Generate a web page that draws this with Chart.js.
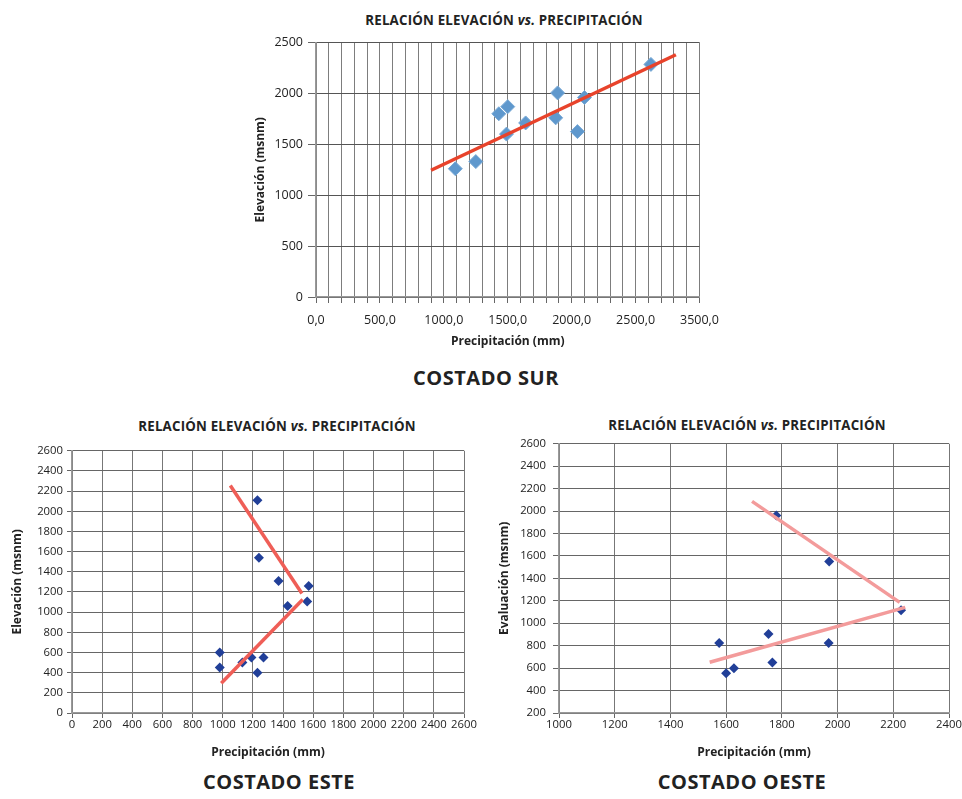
<!DOCTYPE html>
<html>
<head>
<meta charset="utf-8">
<script src="https://cdn.jsdelivr.net/npm/chart.js@4/dist/chart.umd.min.js"></script>
<style>
  html, body { margin: 0; padding: 0; background: #fff; }
  body { width: 962px; height: 799px; position: relative; overflow: hidden; font-family: 'Open Sans', sans-serif; color: #222; }
  .box { position: absolute; }
  .ttl { position: absolute; font-weight: 700; font-size: 13.3px; transform: translate(-50%, -50%); white-space: nowrap; letter-spacing: .2px; }
  .cap { position: absolute; font-weight: 700; font-size: 20px; transform: translate(-50%, -50%); white-space: nowrap; letter-spacing: .5px; }
</style>
</head>
<body>

<div class="ttl" style="left:504px;top:20px">RELACIÓN ELEVACIÓN <i>vs.</i> PRECIPITACIÓN</div>
<div class="box" style="left:230px;top:30px;width:499px;height:330px"><canvas id="chartSur"></canvas></div>
<div class="cap" style="left:486px;top:377px">COSTADO SUR</div>

<div class="ttl" style="left:277px;top:426px">RELACIÓN ELEVACIÓN <i>vs.</i> PRECIPITACIÓN</div>
<div class="box" style="left:0px;top:440px;width:480px;height:325px"><canvas id="chartEste"></canvas></div>
<div class="cap" style="left:279px;top:781px">COSTADO ESTE</div>

<div class="ttl" style="left:747px;top:425px">RELACIÓN ELEVACIÓN <i>vs.</i> PRECIPITACIÓN</div>
<div class="box" style="left:489px;top:430px;width:474px;height:335px"><canvas id="chartOeste"></canvas></div>
<div class="cap" style="left:742px;top:781px">COSTADO OESTE</div>

<script>
// ---- data ----

// Costado Sur
const surPrecip = [1090, 1250, 1430, 1500, 1490, 1640, 1890, 1875, 2045, 2100, 2620];
const surElev   = [1260, 1330, 1800, 1870, 1600, 1710, 2005, 1760, 1625, 1960, 2285];
const surTrendX = [900, 2815];
const surTrendY = [1245, 2380];
const surXLabels = ['0,0', '500,0', '1000,0', '1500,0', '2000,0', '2500,0', '3500,0'];

// Costado Este
const estePrecip = [1230, 1240, 1370, 1570, 1560, 1430, 980, 980, 1130, 1190, 1270, 1230];
const esteElev   = [2110, 1540, 1310, 1260, 1105, 1060, 600, 450, 500, 550, 550, 400];
const esteTrendAX = [1050, 1525];
const esteTrendAY = [2255, 1185];
const esteTrendBX = [990, 1530];
const esteTrendBY = [295, 1125];

// Costado Oeste
const oestePrecip = [1780, 1970, 2228, 1752, 1968, 1575, 1766, 1628, 1600];
const oesteElev   = [1960, 1550, 1115, 905, 825, 825, 650, 600, 555];
const oesteTrendAX = [1693, 2223];
const oesteTrendAY = [2087, 1186];
const oesteTrendBX = [1541, 2243];
const oesteTrendBY = [652, 1142];

const FONT = "'Open Sans', sans-serif";
const TEXT = '#222';

function pts(xs, ys) {
  return xs.map((x, i) => ({ x, y: ys[i] }));
}

function trend(xs, ys, color) {
  return {
    type: 'line', data: pts(xs, ys), borderColor: color, borderWidth: 3.5,
    pointRadius: 0, fill: false, tension: 0, order: 0
  };
}

function makeChart(id, cfg) {
  return new Chart(document.getElementById(id), {
    type: 'scatter',
    data: { datasets: cfg.datasets },
    options: {
      responsive: true,
      maintainAspectRatio: false,
      animation: false,
      events: [],
      layout: { padding: { top: cfg.padTop, right: cfg.padRight, left: 0, bottom: 0 } },
      plugins: { legend: { display: false }, tooltip: { enabled: false } },
      scales: {
        x: {
          type: 'linear', min: cfg.x.min, max: cfg.x.max,
          afterFit: s => { s.height = cfg.x.height; },
          grid: { color: cfg.gridX, lineWidth: 1, tickLength: cfg.x.tick, tickColor: '#666' },
          border: { color: '#999', width: 1.5 },
          ticks: {
            stepSize: cfg.x.step, autoSkip: false, maxRotation: 0, padding: cfg.x.pad,
            color: TEXT, font: { family: FONT, size: cfg.tickSize },
            callback: cfg.x.cb || (v => String(v))
          },
          title: {
            display: true, text: 'Precipitación (mm)', color: TEXT,
            font: { family: FONT, size: 12, weight: 'bold' },
            padding: { top: 0, bottom: cfg.x.titlePad }
          }
        },
        y: {
          type: 'linear', min: cfg.y.min, max: cfg.y.max,
          afterFit: s => { s.width = cfg.y.width; },
          grid: { color: cfg.gridY, lineWidth: 1, tickLength: cfg.y.tick, tickColor: '#666' },
          border: { color: '#999', width: 1.5 },
          ticks: {
            stepSize: cfg.y.step, padding: cfg.y.pad,
            color: TEXT, font: { family: FONT, size: cfg.tickSize },
            callback: v => String(v)
          },
          title: {
            display: true, text: cfg.y.title, color: TEXT,
            font: { family: FONT, size: 12, weight: 'bold' },
            padding: { top: cfg.y.titlePad, bottom: 0 }
          }
        }
      }
    }
  });
}

// Costado Sur
makeChart('chartSur', {
  padTop: 10, padRight: 20, tickSize: 12.5,
  gridX: '#7d7d7d', gridY: '#555',
  datasets: [
    trend(surTrendX, surTrendY, '#e8432b'),
    { data: pts(surPrecip, surElev), pointStyle: 'rectRot', pointRadius: 7,
      backgroundColor: '#5f98cd', borderColor: '#7aaad6', borderWidth: 1, order: 1 }
  ],
  x: { min: 0, max: 3000, step: 100, height: 63, tick: 6, pad: 10, titlePad: 11,
       cb: v => (v % 500 === 0 ? surXLabels[v / 500] : '') },
  y: { min: 0, max: 2500, step: 500, width: 86, tick: 8, pad: 5, titlePad: 23,
       title: 'Elevación (msnm)' }
});

// Costado Este
makeChart('chartEste', {
  padTop: 9, padRight: 16, tickSize: 11.3,
  gridX: '#777', gridY: '#666',
  datasets: [
    trend(esteTrendAX, esteTrendAY, '#ef5e57'),
    trend(esteTrendBX, esteTrendBY, '#ef5e57'),
    { data: pts(estePrecip, esteElev), pointStyle: 'rectRot', pointRadius: 5,
      backgroundColor: '#213f98', borderColor: '#213f98', borderWidth: 0, order: 1 }
  ],
  x: { min: 0, max: 2600, step: 200, height: 52, tick: 5, pad: 0, titlePad: 5 },
  y: { min: 0, max: 2600, step: 200, width: 72, tick: 5, pad: 4, titlePad: 10,
       title: 'Elevación (msnm)' }
});

// Costado Oeste
makeChart('chartOeste', {
  padTop: 11, padRight: 14, tickSize: 11.3,
  gridX: '#777', gridY: '#666',
  datasets: [
    trend(oesteTrendAX, oesteTrendAY, '#f39b9b'),
    trend(oesteTrendBX, oesteTrendBY, '#f39b9b'),
    { data: pts(oestePrecip, oesteElev), pointStyle: 'rectRot', pointRadius: 5,
      backgroundColor: '#213f98', borderColor: '#213f98', borderWidth: 0, order: 1 }
  ],
  x: { min: 1000, max: 2400, step: 200, height: 52, tick: 5, pad: 0, titlePad: 5 },
  y: { min: 200, max: 2600, step: 200, width: 70, tick: 6, pad: 7, titlePad: 8,
       title: 'Evaluación (msnm)' }
});
</script>
</body>
</html>
